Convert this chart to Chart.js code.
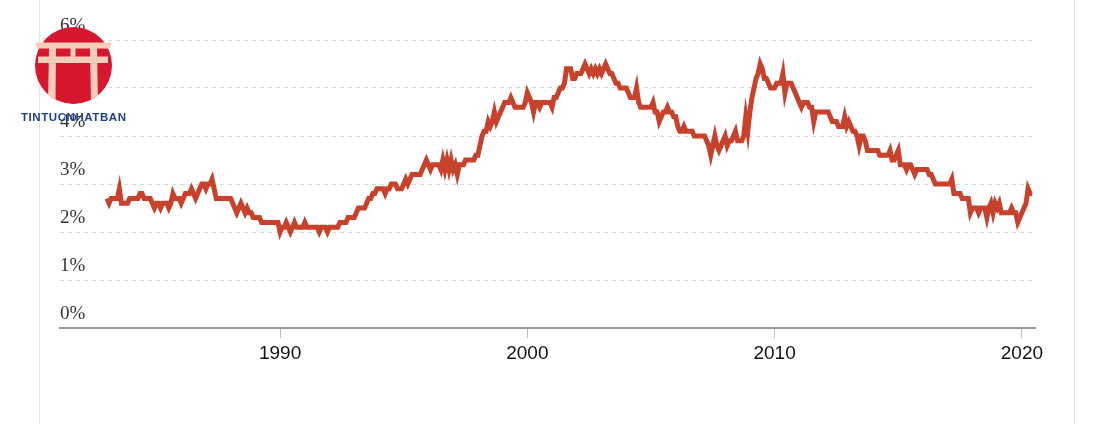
<!DOCTYPE html>
<html><head><meta charset="utf-8">
<script src="https://cdn.jsdelivr.net/npm/chart.js@4"></script>
<style>
html,body{margin:0;padding:0;background:#fff;}
#wrap{position:relative;width:1112px;height:424px;overflow:hidden;background:#fff;}
.frame{position:absolute;top:0;height:424px;width:1px;background:#e4e4e4;}
#c{position:absolute;left:0;top:0;}
#logo{position:absolute;left:0;top:0;}
</style></head>
<body>
<div id="wrap">
<div class="frame" style="left:39px"></div>
<div class="frame" style="left:1074px"></div>
<canvas id="c" width="1112" height="424"></canvas>
<svg id="logo" width="140" height="130" viewBox="0 0 140 130">
  <defs><clipPath id="cc"><circle cx="73.5" cy="65.5" r="38.5"/></clipPath></defs>
  <circle cx="73.5" cy="65.5" r="38.5" fill="#d6172e"/>
  <g clip-path="url(#cc)" fill="#f5cdb9">
    <polygon points="49,48 56,48 55.5,104 48,104"/>
    <polygon points="90,48 97,48 98,104 91,104"/>
    <rect x="38" y="56.5" width="70" height="6.5"/>
    <rect x="70.5" y="48" width="5" height="9"/>
  </g>
  <polygon points="35,42.5 112,42.5 110,48.5 37,48.5" fill="#f5cdb9"/>
  <text x="21" y="120.5" font-family="Liberation Sans, Arial, sans-serif" font-weight="bold" font-size="11.5" fill="#1d3f8f" textLength="105" lengthAdjust="spacing">TINTUCNHATBAN</text>
</svg>
</div>
<script>
const startYear = 1983;
const rates1980s = [
  2.7, 2.6, 2.7, 2.7, 2.7, 2.7, 2.9, 2.6, 2.6, 2.6, 2.6, 2.7,
  2.7, 2.7, 2.7, 2.7, 2.8, 2.8, 2.7, 2.7, 2.7, 2.7, 2.6, 2.5,
  2.6, 2.6, 2.5, 2.6, 2.6, 2.6, 2.5, 2.6, 2.8, 2.7, 2.7, 2.7,
  2.6, 2.7, 2.8, 2.8, 2.8, 2.9, 2.8, 2.7, 2.8, 2.9, 3.0, 3.0,
  2.9, 3.0, 3.0, 3.1, 2.9, 2.7, 2.7, 2.7, 2.7, 2.7, 2.7, 2.7,
  2.7, 2.6, 2.5, 2.4, 2.5, 2.6, 2.5, 2.4, 2.5, 2.4, 2.4, 2.3,
  2.3, 2.3, 2.3, 2.2, 2.2, 2.2, 2.2, 2.2, 2.2, 2.2, 2.2, 2.2
];
const rates1990s = [
  2.0, 2.1, 2.1, 2.2, 2.1, 2.0, 2.1, 2.2, 2.1, 2.1, 2.1, 2.1,
  2.2, 2.1, 2.1, 2.1, 2.1, 2.1, 2.1, 2.0, 2.1, 2.1, 2.1, 2.0,
  2.1, 2.1, 2.1, 2.1, 2.1, 2.2, 2.2, 2.2, 2.2, 2.3, 2.3, 2.3,
  2.3, 2.4, 2.5, 2.5, 2.5, 2.5, 2.6, 2.7, 2.7, 2.8, 2.8, 2.9,
  2.9, 2.9, 2.9, 2.8, 2.9, 2.9, 3.0, 3.0, 3.0, 2.9, 2.9, 2.9,
  3.0, 3.1, 3.0, 3.1, 3.2, 3.2, 3.2, 3.2, 3.2, 3.3, 3.4, 3.5,
  3.4, 3.3, 3.4, 3.4, 3.4, 3.4, 3.3, 3.5, 3.3, 3.5, 3.3, 3.5,
  3.3, 3.4, 3.2, 3.4, 3.4, 3.4, 3.5, 3.5, 3.5, 3.5, 3.5, 3.6,
  3.6, 3.8, 4.0, 4.1, 4.1, 4.3, 4.2, 4.3, 4.5, 4.3, 4.4, 4.5,
  4.6, 4.7, 4.7, 4.7, 4.8, 4.7, 4.6, 4.6, 4.6, 4.6, 4.6, 4.7
];
const rates2000s = [
  4.9, 4.8, 4.7, 4.5, 4.7, 4.7, 4.6, 4.7, 4.7, 4.7, 4.7, 4.7,
  4.6, 4.8, 4.8, 4.9, 5.0, 5.0, 5.1, 5.4, 5.4, 5.4, 5.2, 5.2,
  5.3, 5.3, 5.3, 5.4, 5.5, 5.4, 5.3, 5.4, 5.3, 5.4, 5.3, 5.4,
  5.3, 5.4, 5.5, 5.4, 5.3, 5.3, 5.2, 5.1, 5.1, 5.0, 5.0, 5.0,
  5.0, 4.9, 4.8, 4.8, 4.8, 5.0, 4.7, 4.6, 4.6, 4.6, 4.6, 4.6,
  4.6, 4.7, 4.5, 4.5, 4.3, 4.4, 4.5, 4.5, 4.6, 4.5, 4.5, 4.4,
  4.4, 4.2, 4.1, 4.1, 4.2, 4.1, 4.1, 4.1, 4.1, 4.0, 4.0, 4.0,
  4.0, 4.0, 4.0, 3.9, 3.8, 3.6, 3.8, 4.0, 3.8, 3.7, 3.8, 3.9,
  4.0, 3.8, 3.9, 3.9, 4.0, 4.1, 3.9, 3.9, 3.9, 4.0, 4.4, 4.1,
  4.5, 4.8, 5.0, 5.2, 5.3, 5.5, 5.4, 5.2, 5.2, 5.1, 5.0, 5.0
];
const rates2010s = [
  5.0, 5.1, 5.1, 5.1, 5.3, 4.9, 5.1, 5.1, 5.1, 5.0, 4.9, 4.8,
  4.7, 4.6, 4.7, 4.7, 4.7, 4.6, 4.6, 4.3, 4.5, 4.5, 4.5, 4.5,
  4.5, 4.5, 4.5, 4.4, 4.3, 4.3, 4.3, 4.2, 4.2, 4.2, 4.4, 4.2,
  4.3, 4.2, 4.1, 4.1, 4.0, 3.8, 4.0, 4.0, 3.9, 3.7, 3.7, 3.7,
  3.7, 3.7, 3.7, 3.6, 3.6, 3.6, 3.6, 3.6, 3.7, 3.5, 3.5, 3.6,
  3.7, 3.4, 3.4, 3.4, 3.3, 3.4, 3.4, 3.3, 3.2, 3.3, 3.3, 3.3,
  3.3, 3.3, 3.3, 3.2, 3.2, 3.1, 3.0, 3.0, 3.0, 3.0, 3.0, 3.0,
  3.0, 3.0, 3.1, 2.8, 2.8, 2.8, 2.8, 2.7, 2.7, 2.7, 2.7, 2.4,
  2.5, 2.5, 2.5, 2.4, 2.5, 2.5, 2.5, 2.3, 2.5, 2.6, 2.4, 2.6,
  2.5, 2.6, 2.4, 2.4, 2.4, 2.4, 2.4, 2.5, 2.4, 2.4, 2.2, 2.3
];
const rates2020s = [2.4, 2.5, 2.6, 2.9, 2.8, 2.8];
const yTickValues = [0, 1, 2, 3, 4, 5, 6];
const xTickYears = [1990, 2000, 2010, 2020];

const values = [].concat(rates1980s, rates1990s, rates2000s, rates2010s, rates2020s);
const points = values.map((v, i) => ({ x: startYear + i / 12, y: v }));

new Chart(document.getElementById('c'), {
  type: 'line',
  data: { datasets: [{
    data: points,
    borderColor: '#c8412b',
    borderWidth: 5,
    pointRadius: 0,
    tension: 0,
    fill: false,
    borderJoinStyle: 'miter'
  }] },
  options: {
    responsive: false,
    animation: false,
    devicePixelRatio: 1,
    layout: { padding: { left: 60, right: 77, top: 40, bottom: 46 } },
    plugins: { legend: { display: false }, tooltip: { enabled: false } },
    scales: {
      x: {
        type: 'linear', min: 1981.1, max: 2020.53,
        afterBuildTicks: s => { s.ticks = xTickYears.map(v => ({ value: v })); },
        afterFit: s => { s.height = 50; },
        grid: { drawOnChartArea: false, drawTicks: true, tickLength: 10, color: '#bbbbbb', lineWidth: 1 },
        border: { display: true, color: '#999999', width: 2 },
        ticks: { font: { family: 'Liberation Sans, Arial, sans-serif', size: 19 }, color: '#111111', padding: 4, maxRotation: 0, autoSkip: false, callback: v => String(v) }
      },
      y: {
        min: 0, max: 6,
        afterBuildTicks: s => { s.ticks = yTickValues.map(v => ({ value: v })); },
        afterFit: s => { s.width = 0; },
        grid: { drawTicks: false, lineWidth: 1, color: c => (c.tick && c.tick.value === 0) ? 'rgba(0,0,0,0)' : '#d9d9d9' },
        border: { display: false, dash: [4, 4] },
        ticks: { mirror: true, padding: 0, labelOffset: -14, font: { family: 'Liberation Serif, serif', size: 19 }, color: '#333333', callback: v => v + '%' }
      }
    }
  }
});
</script>
</body></html>
